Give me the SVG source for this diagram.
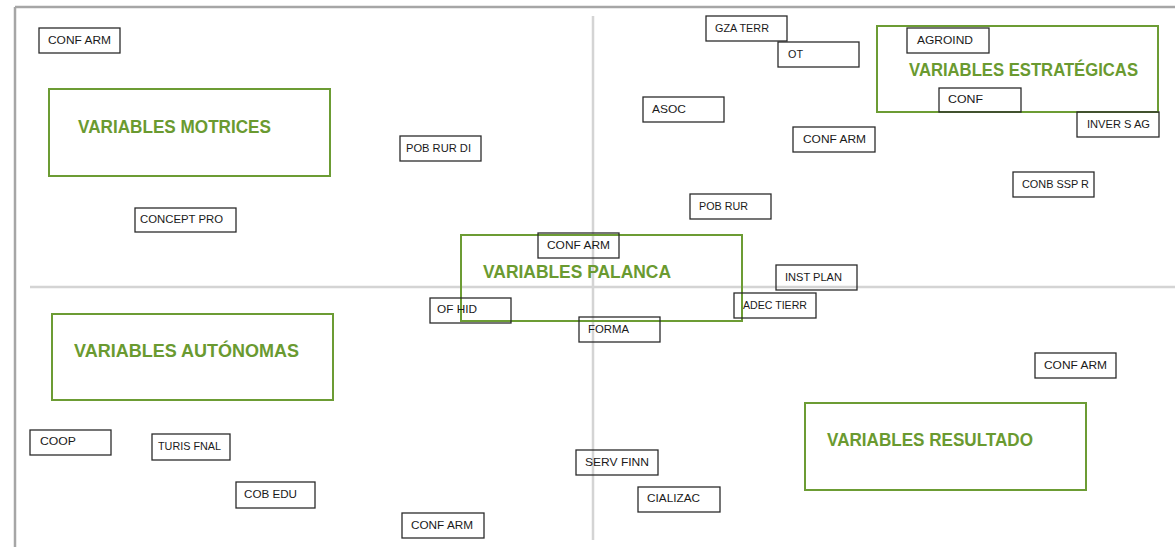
<svg xmlns="http://www.w3.org/2000/svg" width="1175" height="547" viewBox="0 0 1175 547">
<style>
.frame{stroke:#a6a6a6;stroke-width:2.5;fill:none}
.axis{stroke:#d4d4d4;stroke-width:2.5;fill:none}
.zone{fill:none;stroke:#6c9c34;stroke-width:2}
.zt{font-family:"Liberation Sans",Arial,sans-serif;font-weight:bold;font-size:18px;fill:#6a9a30}
.nb{fill:none;stroke:#2b2b2b;stroke-width:1.3}
.nt{font-family:"Liberation Sans",Arial,sans-serif;font-size:11.5px;fill:#1a1a1a}
</style>
<rect width="1175" height="547" fill="#ffffff"/>
<g id="frame">
<line class="frame" x1="15" y1="7" x2="1175" y2="7"/>
<line class="frame" x1="15" y1="7" x2="15" y2="547"/>
</g>
<g id="axes">
<line class="axis" x1="593" y1="16" x2="593" y2="540"/>
<line class="axis" x1="30" y1="287" x2="1175" y2="287"/>
</g>
<g id="connectors"></g>
<g id="zone-motrices"><rect class="zone" x="49" y="89" width="281" height="87"/><text class="zt" x="78" y="133" textLength="193" lengthAdjust="spacingAndGlyphs">VARIABLES MOTRICES</text></g>
<g id="zone-estrategicas"><rect class="zone" x="877" y="26" width="281" height="86"/><text class="zt" x="909" y="76" textLength="229" lengthAdjust="spacingAndGlyphs">VARIABLES ESTRATÉGICAS</text></g>
<g id="zone-palanca"><rect class="zone" x="461" y="235" width="281" height="86"/><text class="zt" x="483" y="278" textLength="188" lengthAdjust="spacingAndGlyphs">VARIABLES PALANCA</text></g>
<g id="zone-autonomas"><rect class="zone" x="52" y="314" width="281" height="86"/><text class="zt" x="74" y="357" textLength="225" lengthAdjust="spacingAndGlyphs">VARIABLES AUTÓNOMAS</text></g>
<g id="zone-resultado"><rect class="zone" x="805" y="403" width="281" height="87"/><text class="zt" x="827" y="446" textLength="206" lengthAdjust="spacingAndGlyphs">VARIABLES RESULTADO</text></g>

<g id="n-conf-arm-1"><rect class="nb" x="39" y="28" width="81" height="25"/><text class="nt" x="48" y="44" textLength="63" lengthAdjust="spacingAndGlyphs">CONF ARM</text></g>
<g id="n-pob-rur-di"><rect class="nb" x="400" y="136" width="81" height="25"/><text class="nt" x="406" y="152" textLength="65" lengthAdjust="spacingAndGlyphs">POB RUR DI</text></g>
<g id="n-concept-pro"><rect class="nb" x="135" y="208" width="101" height="24"/><text class="nt" x="140" y="223" textLength="83" lengthAdjust="spacingAndGlyphs">CONCEPT PRO</text></g>
<g id="n-gza-terr"><rect class="nb" x="706" y="16" width="81" height="25"/><text class="nt" x="715" y="32" textLength="54" lengthAdjust="spacingAndGlyphs">GZA TERR</text></g>
<g id="n-ot"><rect class="nb" x="778" y="42" width="81" height="25"/><text class="nt" x="788" y="58" textLength="15" lengthAdjust="spacingAndGlyphs">OT</text></g>
<g id="n-asoc"><rect class="nb" x="643" y="97" width="81" height="25"/><text class="nt" x="652" y="113" textLength="34" lengthAdjust="spacingAndGlyphs">ASOC</text></g>
<g id="n-agroind"><rect class="nb" x="907" y="28" width="82" height="25"/><text class="nt" x="917" y="44" textLength="56" lengthAdjust="spacingAndGlyphs">AGROIND</text></g>
<g id="n-conf"><rect class="nb" x="939" y="88" width="82" height="24"/><text class="nt" x="948" y="103" textLength="35" lengthAdjust="spacingAndGlyphs">CONF</text></g>
<g id="n-inver-s-ag"><rect class="nb" x="1077" y="112" width="82" height="25"/><text class="nt" x="1087" y="128" textLength="63" lengthAdjust="spacingAndGlyphs">INVER S AG</text></g>
<g id="n-conf-arm-2"><rect class="nb" x="793" y="127" width="82" height="25"/><text class="nt" x="803" y="143" textLength="63" lengthAdjust="spacingAndGlyphs">CONF ARM</text></g>
<g id="n-conb-ssp-r"><rect class="nb" x="1013" y="172" width="81" height="25"/><text class="nt" x="1022" y="188" textLength="67" lengthAdjust="spacingAndGlyphs">CONB SSP R</text></g>
<g id="n-pob-rur"><rect class="nb" x="690" y="194" width="81" height="25"/><text class="nt" x="699" y="210" textLength="49" lengthAdjust="spacingAndGlyphs">POB RUR</text></g>
<g id="n-conf-arm-3"><rect class="nb" x="538" y="233" width="81" height="25"/><text class="nt" x="547" y="249" textLength="63" lengthAdjust="spacingAndGlyphs">CONF ARM</text></g>
<g id="n-inst-plan"><rect class="nb" x="776" y="265" width="81" height="25"/><text class="nt" x="785" y="281" textLength="57" lengthAdjust="spacingAndGlyphs">INST PLAN</text></g>
<g id="n-of-hid"><rect class="nb" x="430" y="298" width="81" height="25"/><text class="nt" x="437" y="313" textLength="40" lengthAdjust="spacingAndGlyphs">OF HID</text></g>
<g id="n-adec-tierr"><rect class="nb" x="734" y="293" width="82" height="25"/><text class="nt" x="743" y="309" textLength="64" lengthAdjust="spacingAndGlyphs">ADEC TIERR</text></g>
<g id="n-forma"><rect class="nb" x="579" y="317" width="81" height="25"/><text class="nt" x="588" y="333" textLength="41" lengthAdjust="spacingAndGlyphs">FORMA</text></g>
<g id="n-conf-arm-4"><rect class="nb" x="1035" y="353" width="81" height="25"/><text class="nt" x="1044" y="369" textLength="63" lengthAdjust="spacingAndGlyphs">CONF ARM</text></g>
<g id="n-coop"><rect class="nb" x="30" y="430" width="81" height="25"/><text class="nt" x="40" y="445" textLength="36" lengthAdjust="spacingAndGlyphs">COOP</text></g>
<g id="n-turis-fnal"><rect class="nb" x="152" y="434" width="78" height="26"/><text class="nt" x="158" y="450" textLength="63" lengthAdjust="spacingAndGlyphs">TURIS FNAL</text></g>
<g id="n-cob-edu"><rect class="nb" x="236" y="482" width="79" height="26"/><text class="nt" x="244" y="498" textLength="53" lengthAdjust="spacingAndGlyphs">COB EDU</text></g>
<g id="n-conf-arm-5"><rect class="nb" x="402" y="513" width="82" height="25"/><text class="nt" x="411" y="529" textLength="62" lengthAdjust="spacingAndGlyphs">CONF ARM</text></g>
<g id="n-serv-finn"><rect class="nb" x="576" y="450" width="82" height="25"/><text class="nt" x="585" y="466" textLength="64" lengthAdjust="spacingAndGlyphs">SERV FINN</text></g>
<g id="n-cializac"><rect class="nb" x="638" y="487" width="82" height="25"/><text class="nt" x="647" y="502" textLength="53" lengthAdjust="spacingAndGlyphs">CIALIZAC</text></g>
</svg>
